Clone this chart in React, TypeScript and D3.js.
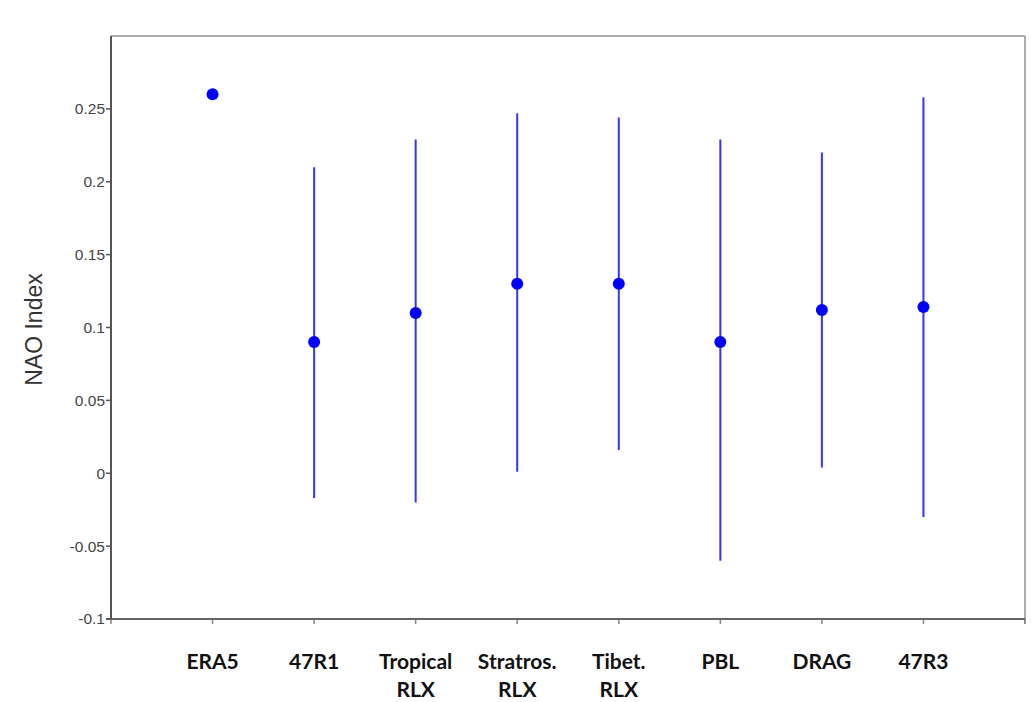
import * as d3 from 'd3';

const width = 1032;
const height = 702;
const marginLeft = 111;
const marginRight = 7;
const marginTop = 36;
const marginBottom = 83;

// experiments, shown as two-line labels where the original wraps
const categories = ["ERA5", "47R1", "Tropical RLX", "Stratros. RLX", "Tibet. RLX", "PBL", "DRAG", "47R3"];
const labelLines = [["ERA5"], ["47R1"], ["Tropical", "RLX"], ["Stratros.", "RLX"], ["Tibet.", "RLX"], ["PBL"], ["DRAG"], ["47R3"]];
const means = [0.26, 0.09, 0.11, 0.13, 0.13, 0.09, 0.112, 0.114];
const lows = [null, -0.017, -0.02, 0.001, 0.016, -0.06, 0.004, -0.03];
const highs = [null, 0.21, 0.229, 0.247, 0.244, 0.229, 0.22, 0.258];
const yTicks = [-0.1, -0.05, 0, 0.05, 0.1, 0.15, 0.2, 0.25];
const yTickLabels = ["-0.1", "-0.05", "0", "0.05", "0.1", "0.15", "0.2", "0.25"];

const App = () => {
    const x = d3.scaleLinear([0, categories.length + 1], [marginLeft, width - marginRight]);
    const y = d3.scaleLinear([-0.1, 0.3], [height - marginBottom, marginTop]);
    const x0 = x.range()[0];
    const x1 = x.range()[1];
    const y0 = y.range()[0];
    const y1 = y.range()[1];
    const xTicks = d3.range(0, categories.length + 2);

    return (
        <svg width={width} height={height} style={{ position: 'absolute', left: 0, top: 0, background: '#fff' }}>
            {/* frame: top and right lighter */}
            <line x1={x0} x2={x1} y1={y1} y2={y1} stroke="#aaa" strokeWidth={2} />
            <line x1={x1} x2={x1} y1={y1} y2={y0 + 5} stroke="#aaa" strokeWidth={2} />

            {/* x axis */}
            <g>
                {xTicks.map(t => (
                    <line key={t} x1={x(t)} x2={x(t)} y1={y0} y2={y0 + 5} stroke="#888" strokeWidth={1.5} />
                ))}
                <line x1={x0 - 5} x2={x1} y1={y0} y2={y0} stroke="#666" strokeWidth={2} />
                {labelLines.map((lines, i) => (
                    <text key={i} x={x(i + 1)} y={669} textAnchor="middle"
                        fontFamily="Lato, 'Open Sans', sans-serif" fontWeight="bold" fontSize={21} fill="#111">
                        {lines.map((l, j) => (
                            <tspan key={j} x={x(i + 1)} dy={j === 0 ? 0 : 28}>{l}</tspan>
                        ))}
                    </text>
                ))}
            </g>

            {/* y axis */}
            <g fontFamily="'Liberation Sans', Arial, sans-serif" fontSize={15.5} fill="#444">
                {yTicks.map((t, i) => (
                    <g key={t}>
                        <line x1={x0 - 5} x2={x0} y1={y(t)} y2={y(t)} stroke="#555" strokeWidth={1.5} />
                        <text x={x0 - 6} y={y(t)} dy="0.35em" textAnchor="end">{yTickLabels[i]}</text>
                    </g>
                ))}
                <line x1={x0} x2={x0} y1={y1} y2={y0} stroke="#555" strokeWidth={2} />
            </g>
            <text transform={`translate(42,${(y0 + y1) / 2 + 2}) rotate(-90)`} textAnchor="middle"
                fontFamily="'Liberation Sans', Arial, sans-serif" fontSize={23} fill="#333">NAO Index</text>

            {/* ranges and means */}
            <g>
                {categories.map((c, i) => (
                    lows[i] !== null && highs[i] !== null ? (
                        <line key={c} x1={x(i + 1)} x2={x(i + 1)} y1={y(lows[i] as number)} y2={y(highs[i] as number)}
                            stroke="#3333ff" strokeWidth={2} />
                    ) : null
                ))}
                {categories.map((c, i) => (
                    <circle key={c} cx={x(i + 1)} cy={y(means[i])} r={6} fill="#0000ff" />
                ))}
            </g>
        </svg>
    );
};

export default App;
